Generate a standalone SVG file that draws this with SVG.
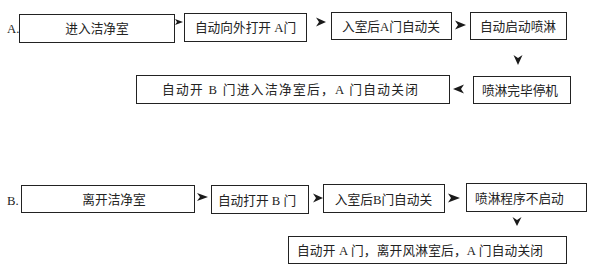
<svg xmlns="http://www.w3.org/2000/svg" width="600" height="275" viewBox="0 0 600 275">
<style>
rect.box{fill:#fff;stroke:#222;stroke-width:1}
text{font-family:"Liberation Serif","Noto Sans CJK SC",serif;font-size:12.7px;fill:#222}
text.c{text-anchor:middle}
.ah{fill:#1a1a1a;stroke:none}
</style>
<rect width="600" height="275" fill="#fff"/>
<text x="7" y="33">A.</text>
<text x="7" y="205">B.</text>
<g id="a1"><rect class="box" x="19.5" y="14.5" width="155" height="28"/><text class="c" x="97" y="33">进入洁净室</text></g>
<g id="a2"><rect class="box" x="184.5" y="13.5" width="122" height="28"/><text class="c" x="245.5" y="32">自动向外打开 A门</text></g>
<g id="a3"><rect class="box" x="331.5" y="12.5" width="120" height="27"/><text class="c" x="391" y="31">入室后A门自动关</text></g>
<g id="a4"><rect class="box" x="470.5" y="12.5" width="96" height="27"/><text class="c" x="518" y="31">自动启动喷淋</text></g>
<g id="a5"><rect class="box" x="473.5" y="76.5" width="97" height="27"/><text class="c" x="520" y="94.5">喷淋完毕停机</text></g>
<g id="a6"><rect class="box" x="136.5" y="75.5" width="313" height="28"/><text x="162" y="94" textLength="256" lengthAdjust="spacing">自动开 B 门进入洁净室后，A 门自动关闭</text></g>
<g id="b1"><rect class="box" x="21.5" y="185.5" width="173" height="27"/><text class="c" x="114" y="204">离开洁净室</text></g>
<g id="b2"><rect class="box" x="211.5" y="185.5" width="97" height="28"/><text class="c" x="257" y="204.5">自动打开 B 门</text></g>
<g id="b3"><rect class="box" x="323.5" y="184.5" width="121" height="28"/><text class="c" x="383.5" y="203.5">入室后B门自动关</text></g>
<g id="b4"><rect class="box" x="466.5" y="183.5" width="120" height="28"/><text x="475" y="203">喷淋程序不启动</text></g>
<g id="b5"><rect class="box" x="288.5" y="236.5" width="278" height="27"/><text x="297" y="255" textLength="246" lengthAdjust="spacing">自动开 A 门，离开风淋室后，A 门自动关闭</text></g>
<g id="connectors">
<polygon class="ah" points="175,19 183,22 175,25 177,22" fill="#555"/>
<polygon class="ah" points="316,17.5 326,22 316,26.5 319,22"/>
<polygon class="ah" points="455,20.5 466,25 455,29.5 458,25"/>
<polygon class="ah" points="513.5,55 518,65 522.5,55 518,58"/>
<polygon class="ah" points="464,84.5 453,89 464,93.5 461,89"/>
<polygon class="ah" points="197,193 208,197 197,201 200,197"/>
<polygon class="ah" points="313,193.5 323,198 313,202.5 316,198"/>
<polygon class="ah" points="448,193.5 460,198 448,202.5 451,198"/>
<polygon class="ah" points="512.5,217 517,226 521.5,217 517,220"/>
</g>
</svg>
